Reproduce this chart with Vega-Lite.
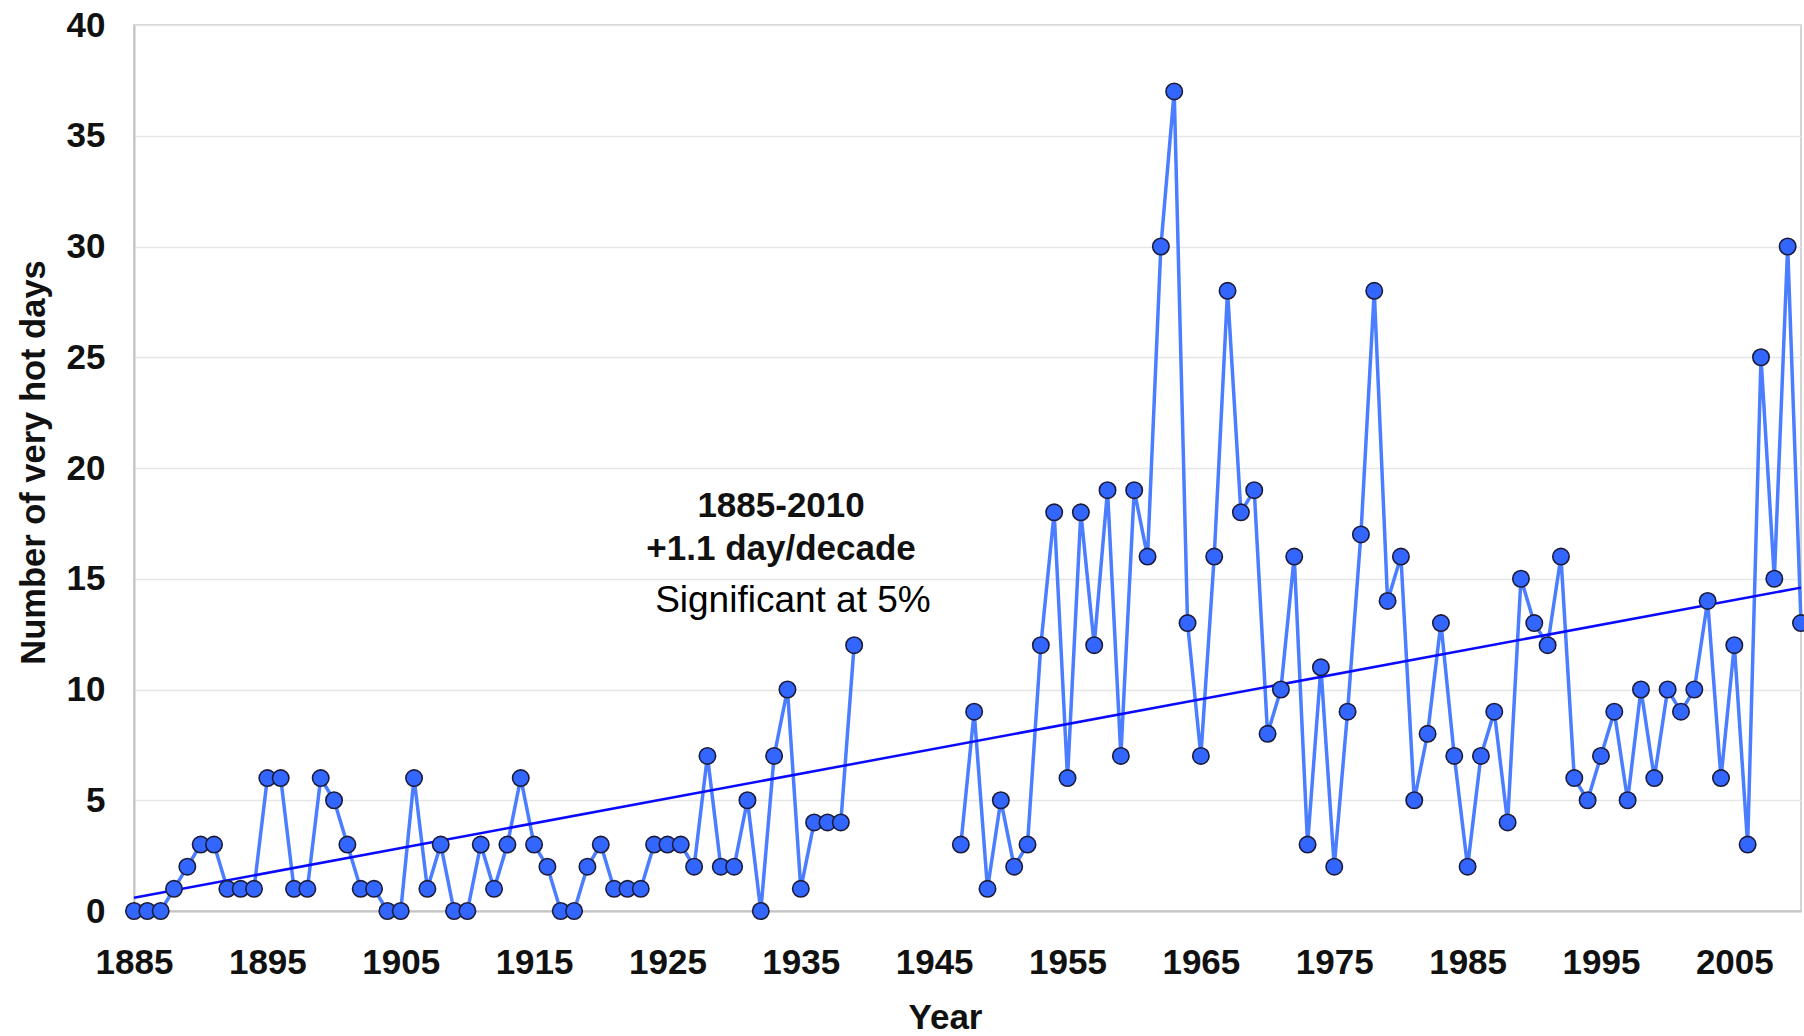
{
  "$schema": "https://vega.github.io/schema/vega-lite/v6.json",
  "autosize": {"type": "none"},
  "padding": {"left": 134, "top": 25, "right": 3, "bottom": 125},
  "width": 1667,
  "height": 886,
  "background": "white",
  "config": {
    "font": "Liberation Sans",
    "view": {"stroke": "#d4d4d4", "strokeWidth": 2}
  },
  "datasets": {
    "hot": [
      {"year": 1885, "days": 0, "period": "a"},
      {"year": 1886, "days": 0, "period": "a"},
      {"year": 1887, "days": 0, "period": "a"},
      {"year": 1888, "days": 1, "period": "a"},
      {"year": 1889, "days": 2, "period": "a"},
      {"year": 1890, "days": 3, "period": "a"},
      {"year": 1891, "days": 3, "period": "a"},
      {"year": 1892, "days": 1, "period": "a"},
      {"year": 1893, "days": 1, "period": "a"},
      {"year": 1894, "days": 1, "period": "a"},
      {"year": 1895, "days": 6, "period": "a"},
      {"year": 1896, "days": 6, "period": "a"},
      {"year": 1897, "days": 1, "period": "a"},
      {"year": 1898, "days": 1, "period": "a"},
      {"year": 1899, "days": 6, "period": "a"},
      {"year": 1900, "days": 5, "period": "a"},
      {"year": 1901, "days": 3, "period": "a"},
      {"year": 1902, "days": 1, "period": "a"},
      {"year": 1903, "days": 1, "period": "a"},
      {"year": 1904, "days": 0, "period": "a"},
      {"year": 1905, "days": 0, "period": "a"},
      {"year": 1906, "days": 6, "period": "a"},
      {"year": 1907, "days": 1, "period": "a"},
      {"year": 1908, "days": 3, "period": "a"},
      {"year": 1909, "days": 0, "period": "a"},
      {"year": 1910, "days": 0, "period": "a"},
      {"year": 1911, "days": 3, "period": "a"},
      {"year": 1912, "days": 1, "period": "a"},
      {"year": 1913, "days": 3, "period": "a"},
      {"year": 1914, "days": 6, "period": "a"},
      {"year": 1915, "days": 3, "period": "a"},
      {"year": 1916, "days": 2, "period": "a"},
      {"year": 1917, "days": 0, "period": "a"},
      {"year": 1918, "days": 0, "period": "a"},
      {"year": 1919, "days": 2, "period": "a"},
      {"year": 1920, "days": 3, "period": "a"},
      {"year": 1921, "days": 1, "period": "a"},
      {"year": 1922, "days": 1, "period": "a"},
      {"year": 1923, "days": 1, "period": "a"},
      {"year": 1924, "days": 3, "period": "a"},
      {"year": 1925, "days": 3, "period": "a"},
      {"year": 1926, "days": 3, "period": "a"},
      {"year": 1927, "days": 2, "period": "a"},
      {"year": 1928, "days": 7, "period": "a"},
      {"year": 1929, "days": 2, "period": "a"},
      {"year": 1930, "days": 2, "period": "a"},
      {"year": 1931, "days": 5, "period": "a"},
      {"year": 1932, "days": 0, "period": "a"},
      {"year": 1933, "days": 7, "period": "a"},
      {"year": 1934, "days": 10, "period": "a"},
      {"year": 1935, "days": 1, "period": "a"},
      {"year": 1936, "days": 4, "period": "a"},
      {"year": 1937, "days": 4, "period": "a"},
      {"year": 1938, "days": 4, "period": "a"},
      {"year": 1939, "days": 12, "period": "a"},
      {"year": 1947, "days": 3, "period": "b"},
      {"year": 1948, "days": 9, "period": "b"},
      {"year": 1949, "days": 1, "period": "b"},
      {"year": 1950, "days": 5, "period": "b"},
      {"year": 1951, "days": 2, "period": "b"},
      {"year": 1952, "days": 3, "period": "b"},
      {"year": 1953, "days": 12, "period": "b"},
      {"year": 1954, "days": 18, "period": "b"},
      {"year": 1955, "days": 6, "period": "b"},
      {"year": 1956, "days": 18, "period": "b"},
      {"year": 1957, "days": 12, "period": "b"},
      {"year": 1958, "days": 19, "period": "b"},
      {"year": 1959, "days": 7, "period": "b"},
      {"year": 1960, "days": 19, "period": "b"},
      {"year": 1961, "days": 16, "period": "b"},
      {"year": 1962, "days": 30, "period": "b"},
      {"year": 1963, "days": 37, "period": "b"},
      {"year": 1964, "days": 13, "period": "b"},
      {"year": 1965, "days": 7, "period": "b"},
      {"year": 1966, "days": 16, "period": "b"},
      {"year": 1967, "days": 28, "period": "b"},
      {"year": 1968, "days": 18, "period": "b"},
      {"year": 1969, "days": 19, "period": "b"},
      {"year": 1970, "days": 8, "period": "b"},
      {"year": 1971, "days": 10, "period": "b"},
      {"year": 1972, "days": 16, "period": "b"},
      {"year": 1973, "days": 3, "period": "b"},
      {"year": 1974, "days": 11, "period": "b"},
      {"year": 1975, "days": 2, "period": "b"},
      {"year": 1976, "days": 9, "period": "b"},
      {"year": 1977, "days": 17, "period": "b"},
      {"year": 1978, "days": 28, "period": "b"},
      {"year": 1979, "days": 14, "period": "b"},
      {"year": 1980, "days": 16, "period": "b"},
      {"year": 1981, "days": 5, "period": "b"},
      {"year": 1982, "days": 8, "period": "b"},
      {"year": 1983, "days": 13, "period": "b"},
      {"year": 1984, "days": 7, "period": "b"},
      {"year": 1985, "days": 2, "period": "b"},
      {"year": 1986, "days": 7, "period": "b"},
      {"year": 1987, "days": 9, "period": "b"},
      {"year": 1988, "days": 4, "period": "b"},
      {"year": 1989, "days": 15, "period": "b"},
      {"year": 1990, "days": 13, "period": "b"},
      {"year": 1991, "days": 12, "period": "b"},
      {"year": 1992, "days": 16, "period": "b"},
      {"year": 1993, "days": 6, "period": "b"},
      {"year": 1994, "days": 5, "period": "b"},
      {"year": 1995, "days": 7, "period": "b"},
      {"year": 1996, "days": 9, "period": "b"},
      {"year": 1997, "days": 5, "period": "b"},
      {"year": 1998, "days": 10, "period": "b"},
      {"year": 1999, "days": 6, "period": "b"},
      {"year": 2000, "days": 10, "period": "b"},
      {"year": 2001, "days": 9, "period": "b"},
      {"year": 2002, "days": 10, "period": "b"},
      {"year": 2003, "days": 14, "period": "b"},
      {"year": 2004, "days": 6, "period": "b"},
      {"year": 2005, "days": 12, "period": "b"},
      {"year": 2006, "days": 3, "period": "b"},
      {"year": 2007, "days": 25, "period": "b"},
      {"year": 2008, "days": 15, "period": "b"},
      {"year": 2009, "days": 30, "period": "b"},
      {"year": 2010, "days": 13, "period": "b"}
    ],
    "trend": [
      {"year": 1885, "days": 0.6},
      {"year": 2010, "days": 14.6}
    ],
    "boldNotes": [
      {"year": 1933.52, "days": 17.79, "label": "1885-2010"},
      {"year": 1933.52, "days": 15.85, "label": "+1.1 day/decade"}
    ],
    "plainNotes": [
      {"year": 1934.41, "days": 13.5, "label": "Significant at 5%"}
    ]
  },
  "encoding": {
    "x": {
      "field": "year",
      "type": "quantitative",
      "scale": {"domain": [1885, 2010], "nice": false, "zero": false},
      "axis": {
        "values": [1885, 1895, 1905, 1915, 1925, 1935, 1945, 1955, 1965, 1975, 1985, 1995, 2005],
        "format": "d",
        "grid": false,
        "ticks": false,
        "domainColor": "#c4c4c4",
        "domainWidth": 2,
        "labelFont": "Liberation Sans",
        "labelFontWeight": "bold",
        "labelFontSize": 35,
        "labelColor": "#111111",
        "labelPadding": 34,
        "labelFlush": false,
        "title": "Year",
        "titleFont": "Liberation Sans",
        "titleFontWeight": "bold",
        "titleFontSize": 35,
        "titleColor": "#111111",
        "titleX": 811,
        "titleY": 117,
        "titleBaseline": "alphabetic"
      }
    },
    "y": {
      "field": "days",
      "type": "quantitative",
      "scale": {"domain": [0, 40], "nice": false},
      "axis": {
        "values": [0, 5, 10, 15, 20, 25, 30, 35, 40],
        "grid": true,
        "gridColor": "#e6e6e6",
        "gridWidth": 1.5,
        "ticks": false,
        "domainColor": "#c4c4c4",
        "domainWidth": 2,
        "labelFont": "Liberation Sans",
        "labelFontWeight": "bold",
        "labelFontSize": 35,
        "labelColor": "#111111",
        "labelPadding": 29,
        "title": "Number of very hot days",
        "titleFont": "Liberation Sans",
        "titleFontWeight": "bold",
        "titleFontSize": 34.5,
        "titleColor": "#111111",
        "titlePadding": 15,
        "titleY": 437
      }
    }
  },
  "layer": [
    {
      "data": {"name": "hot"},
      "mark": {"type": "line", "color": "#4a7dff", "strokeWidth": 3.5},
      "encoding": {"detail": {"field": "period"}}
    },
    {
      "data": {"name": "trend"},
      "mark": {"type": "line", "color": "#0a0aff", "strokeWidth": 2.5},
      "encoding": {}
    },
    {
      "data": {"name": "hot"},
      "mark": {"type": "point", "shape": "circle", "filled": true, "fill": "#3366ff", "stroke": "#1c1c3a", "strokeWidth": 1.6, "opacity": 1, "size": 270}
    },
    {
      "data": {"name": "boldNotes"},
      "mark": {"type": "text", "font": "Liberation Sans", "fontWeight": "bold", "fontSize": 35, "color": "#111111", "align": "center", "baseline": "alphabetic"},
      "encoding": {"text": {"field": "label"}}
    },
    {
      "data": {"name": "plainNotes"},
      "mark": {"type": "text", "font": "Liberation Sans", "fontSize": 37, "color": "#000000", "align": "center", "baseline": "alphabetic"},
      "encoding": {"text": {"field": "label"}}
    }
  ]
}
